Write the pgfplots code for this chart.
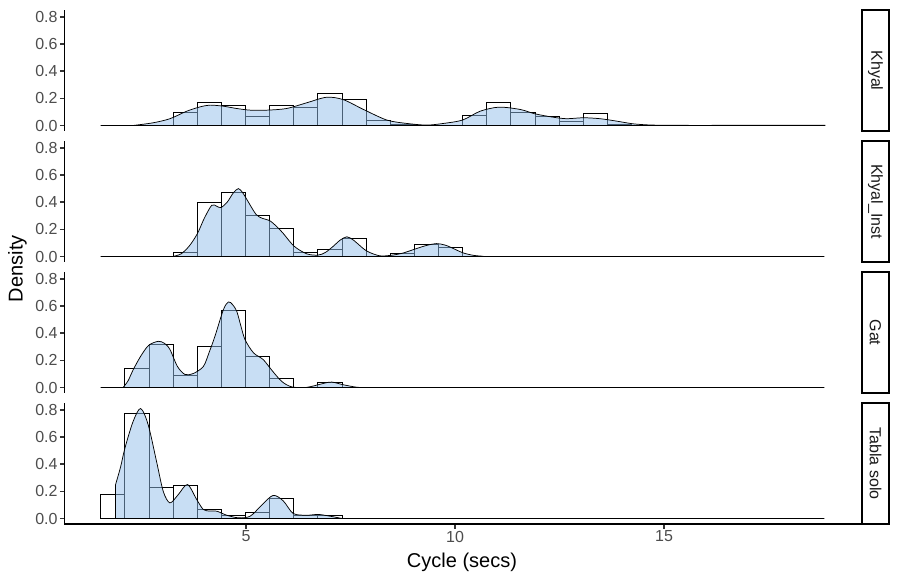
\documentclass[border=0pt]{standalone}
\usepackage{pgfplots}
\usepackage{pgfplotstable}
\usepackage{fontspec}
\setmainfont{Liberation Sans}
\pgfplotsset{compat=1.18}
\definecolor{gray30}{HTML}{4D4D4D}
\definecolor{gray20}{HTML}{333333}
\definecolor{gray10}{HTML}{1A1A1A}
\definecolor{densfill}{RGB}{147,190,235}

\pgfplotstableread{
x      khyal  inst   gat    tabla
1.524  0      0      0      0.18
2.101  0      0      0.14   0.777
2.678  0      0      0.32   0.23
3.255  0.098  0.027  0.093  0.243
3.832  0.174  0.40   0.30   0.064
4.409  0.145  0.47   0.566  0.022
4.986  0.07   0.30   0.23   0.049
5.563  0.145  0.206  0.066  0.15
6.140  0.135  0.027  0      0.024
6.717  0.235  0.05   0.035  0.02
7.294  0.196  0.135  0      0
7.871  0.037  0      0      0
8.448  0.012  0.02   0      0
9.025  0      0.09   0      0
9.602  0      0.064  0      0
10.179 0.076  0      0      0
10.756 0.174  0      0      0
11.333 0.10   0      0      0
11.910 0.064  0      0      0
12.487 0.033  0      0      0
13.064 0.09   0      0      0
13.641 0.01   0      0      0
14.218 0      0      0      0
14.795 0      0      0      0
15.372 0      0      0      0
15.949 0.003  0      0      0
16.526 0      0      0      0
17.103 0      0      0      0
17.680 0      0      0      0
18.257 0.003  0      0      0
18.834 0      0      0      0
}\hist

\pgfplotsset{
  panel/.style={
    scale only axis, width=597pt, height=90.75pt,
    xmin=0.658, xmax=19.70, ymin=-0.0405, ymax=0.8505,
    anchor=south west,
    axis y line*=left,
    axis line style={line width=1.4pt, black},
    ytick={0,0.2,0.4,0.6,0.8},
    xtick={5,10,15},
    tick align=outside,
    major tick length=3.5pt,
    every tick/.style={line width=1.07pt, gray20},
    /pgf/number format/assume math mode=true,
    yticklabel style={font=\fontsize{12}{14}\selectfont, text=gray30, inner sep=1.5pt,
      /pgf/number format/fixed, /pgf/number format/fixed zerofill,
      /pgf/number format/precision=1},
    xticklabel style={font=\fontsize{12}{14}\selectfont, text=gray30, inner sep=1.5pt},
  },
  hist/.style={ybar interval, fill=white, draw=black, line width=0.5pt},
  dens/.style={fill=densfill, fill opacity=0.5, draw=black, line width=0.55pt, smooth, tension=0.5},
}

\begin{document}
\begin{tikzpicture}
\path[use as bounding box] (0,0) rectangle (675pt,433.5pt);

% Khyal
\begin{axis}[panel, at={(48.375pt,335.25pt)}, axis x line=none]
\addplot[hist] table[x=x, y=khyal] {\hist};
\addplot[dens] coordinates {
(2.30,0) (2.78,0.02) (3.18,0.05) (3.58,0.105) (3.90,0.137) (4.14,0.15) (4.46,0.142)
(4.78,0.125) (5.10,0.113) (5.50,0.113) (5.97,0.125) (6.45,0.167) (6.93,0.208)
(7.33,0.19) (7.81,0.118) (8.37,0.04) (8.85,0.015) (9.32,0.003) (9.72,0.015)
(10.18,0.04) (10.60,0.105) (11.05,0.135) (11.56,0.118) (11.91,0.086) (12.35,0.061)
(12.67,0.05) (13.07,0.057) (13.47,0.05) (13.87,0.032) (14.27,0.012) (14.74,0.003)
(15.5,0.001) (16.5,0.001) (17.5,0.001) (18.3,0.001) (18.85,0.001)
} \closedcycle;
\end{axis}

% Khyal_Inst
\begin{axis}[panel, at={(48.375pt,237pt)}, axis x line=none]
\addplot[hist] table[x=x, y=inst] {\hist};
\addplot[dens] coordinates {
(3.25,0) (3.45,0.02) (3.65,0.08) (3.84,0.17) (4.0,0.28) (4.18,0.377) (4.30,0.37)
(4.40,0.36) (4.55,0.40) (4.70,0.47) (4.82,0.50) (4.92,0.47) (5.02,0.42) (5.24,0.31)
(5.40,0.28) (5.56,0.265) (5.72,0.225) (5.89,0.17) (6.15,0.076) (6.45,0.02) (6.72,0.01)
(6.90,0.03) (7.09,0.076) (7.25,0.12) (7.41,0.145) (7.55,0.125) (7.65,0.10) (7.89,0.04)
(8.2,0.005) (8.5,0.01) (8.75,0.025) (9.0,0.05) (9.3,0.08) (9.56,0.095) (9.75,0.085)
(9.88,0.07) (10.19,0.027) (10.45,0.008) (10.67,0.002)
} \closedcycle;
\end{axis}

% Gat
\begin{axis}[panel, at={(48.375pt,138.75pt)}, axis x line=none]
\addplot[hist] table[x=x, y=gat] {\hist};
\addplot[dens] coordinates {
(2.06,0) (2.18,0.05) (2.30,0.13) (2.48,0.23) (2.67,0.31) (2.90,0.34) (3.05,0.325)
(3.18,0.28) (3.36,0.155) (3.54,0.096) (3.74,0.103) (3.98,0.155) (4.12,0.26) (4.26,0.38)
(4.46,0.574) (4.58,0.63) (4.68,0.61) (4.78,0.56) (4.88,0.45) (4.98,0.35) (5.18,0.255)
(5.41,0.206) (5.61,0.13) (5.85,0.046) (6.09,0.005) (6.45,0.001) (6.85,0.03) (7.05,0.04)
(7.33,0.02) (7.65,0.002) (7.87,0)
} \closedcycle;
\end{axis}

% Tabla solo
\begin{axis}[panel, at={(48.375pt,40.5pt)}, axis x line*=bottom]
\addplot[hist] table[x=x, y=tabla] {\hist};
\addplot[dens] coordinates {
(1.88,0.25) (2.0,0.38) (2.105,0.52) (2.30,0.715) (2.48,0.81) (2.66,0.69) (2.86,0.42)
(3.02,0.20) (3.18,0.115) (3.38,0.176) (3.60,0.25) (3.82,0.14) (3.98,0.066) (4.14,0.055)
(4.30,0.054) (4.54,0.024) (4.82,0.005) (5.10,0.017) (5.38,0.10) (5.65,0.17) (5.89,0.13)
(6.13,0.037) (6.45,0.024) (6.73,0.03) (7.01,0.017) (7.25,0.003) (7.3,0)
} \closedcycle;
\end{axis}

% strips
\foreach \yb/\yt/\lab in {335.25/426/Khyal, 237/327.75/Khyal\_Inst, 138.75/229.5/Gat, 40.5/131.25/Tabla solo}{
  \draw[line width=1.5pt, fill=white] (646.5pt,\yb pt) rectangle (666.75pt,\yt pt);
  \node[rotate=-90, font=\fontsize{12}{14}\selectfont, text=gray10] at (656.6pt,{(\yb+\yt)/2*1pt}) {\lab};
}

\node[rotate=90, font=\fontsize{15}{17}\selectfont] at (13pt,232pt) {Density};
\node[font=\fontsize{15}{17}\selectfont] at (346.5pt,12pt) {Cycle (secs)};
\end{tikzpicture}
\end{document}
